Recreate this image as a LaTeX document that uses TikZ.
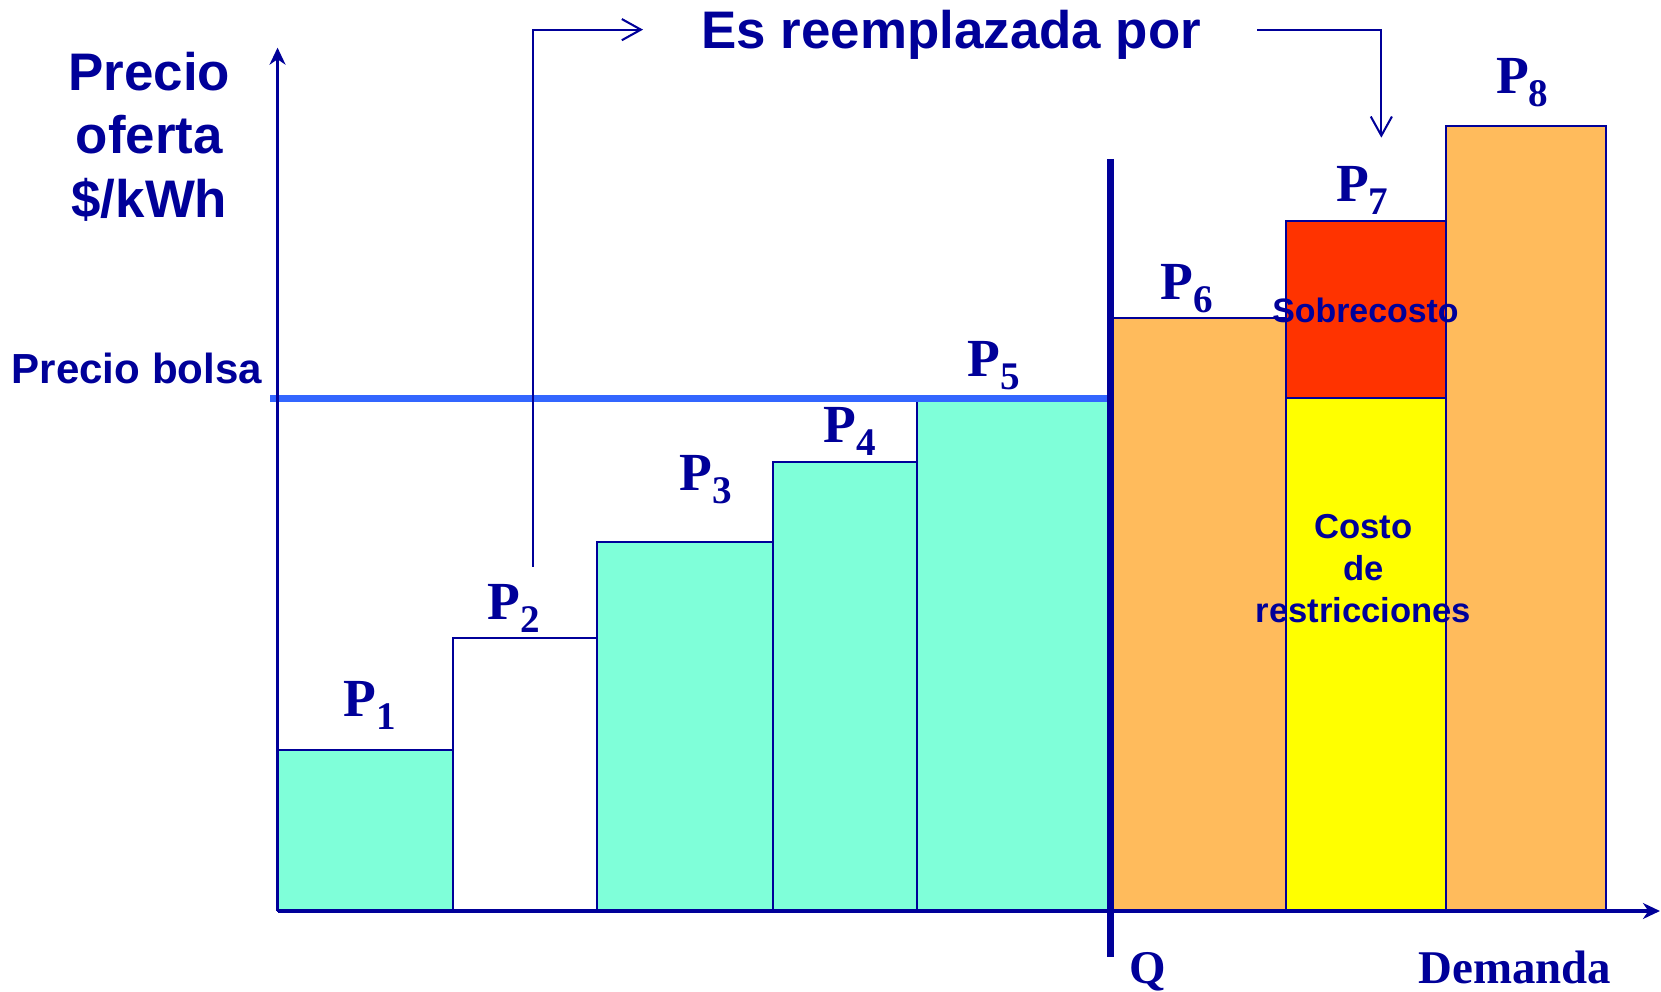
\documentclass[tikz,border=0pt]{standalone}
\usepackage{fontspec}
\setmainfont{Liberation Serif}
\setsansfont{Liberation Sans}
\usetikzlibrary{arrows.meta,positioning}
\definecolor{navy}{HTML}{000099}
\definecolor{aqua}{HTML}{7FFFD9}
\definecolor{naranja}{HTML}{FFBB5C}
\definecolor{rojo}{HTML}{FF3300}
\definecolor{amarillo}{HTML}{FFFF00}
\definecolor{bolsa}{HTML}{3366FF}
\newcommand{\pp}[1]{P\lower3.5pt\hbox{\fontsize{10.5}{12}\selectfont #1}}
\tikzset{
  bar/.style={draw=navy,line width=0.55pt},
  plabel/.style={text=navy,font=\fontsize{14.4}{16}\selectfont\bfseries,anchor=base,inner sep=0pt},
  axis/.style={draw=navy,line width=0.9pt,-{Stealth[length=1.6mm,width=1.5mm,inset=0.5mm]}},
  sfnote/.style={text=navy,font=\sffamily\bfseries,align=center,inner sep=0pt},
  replace/.style={draw=navy,line width=0.55pt,-{Straight Barb[length=1.8mm,width=2mm]}}
}
\begin{document}
\begin{tikzpicture}
  \useasboundingbox (0,0) rectangle (15.68,9.36);

  % offer blocks
  \filldraw[bar,fill=aqua] (2.62,0.76) rectangle (4.28,2.28);
  \filldraw[bar,fill=white] (4.28,0.76) rectangle (5.64,3.34);
  \filldraw[bar,fill=aqua] (5.64,0.76) rectangle (7.30,4.24);
  \filldraw[bar,fill=aqua] (7.30,0.76) rectangle (8.66,5.00);
  \filldraw[bar,fill=aqua] (8.66,0.76) rectangle (10.48,5.60);
  \filldraw[bar,fill=naranja] (10.48,0.76) rectangle (12.14,6.36);
  \filldraw[bar,fill=amarillo] (12.14,0.76) rectangle (13.65,5.60);
  \filldraw[bar,fill=rojo] (12.14,5.60) rectangle (13.65,7.27);
  \filldraw[bar,fill=naranja] (13.65,0.76) rectangle (15.16,8.17);

  \node[plabel] (p1) at (3.49,2.60) {\pp{1}};
  \node[plabel] (p2) at (4.85,3.51) {\pp{2}};
  \node[plabel] (p3) at (6.66,4.73) {\pp{3}};
  \node[plabel] (p4) at (8.02,5.18) {\pp{4}};
  \node[plabel] (p5) at (9.38,5.81) {\pp{5}};
  \node[plabel] (p6) at (11.20,6.53) {\pp{6}};
  \node[plabel] (p7) at (12.86,7.46) {\pp{7}};
  \node[plabel] (p8) at (14.37,8.48) {\pp{8}};

  % axes and limits
  \coordinate (O) at (2.62,0.76);
  \coordinate (ytop) at (2.62,8.91);
  \coordinate (xend) at (15.67,0.76);
  \coordinate (bolsaL) at (2.55,5.60);
  \coordinate (bolsaR) at (10.48,5.60);
  \coordinate (qtop) at (10.48,7.86);
  \coordinate (qbot) at (10.48,0.33);
  \draw[bolsa,line width=2pt] (bolsaL) -- (bolsaR);
  \draw[axis] (O) -- (ytop);
  \draw[axis] (O) -- (xend);
  \draw[navy,line width=1.9pt] (qtop) -- (qbot);

  \node[sfnote,font=\sffamily\bfseries\fontsize{14.2}{17}\selectfont] (ylab) at (1.41,8.07) {Precio\\oferta\\\$/kWh};
  \node[sfnote,font=\sffamily\bfseries\fontsize{11.3}{13}\selectfont,anchor=base east] (pbolsa) at (2.48,5.74) {Precio bolsa};
  \node[sfnote,font=\sffamily\bfseries\fontsize{14.2}{17}\selectfont,anchor=base] (reempl) at (8.98,8.90) {Es reemplazada por};
  \node[sfnote,font=\sffamily\bfseries\fontsize{9.1}{11}\selectfont,anchor=base] (sobre) at (12.89,6.32) {Sobrecosto};
  \node[sfnote,font=\sffamily\bfseries\fontsize{9.3}{11.3}\selectfont] (costo) at (12.87,3.99) {Costo\\de\\restricciones};
  \node[plabel,font=\fontsize{12.6}{14}\selectfont\bfseries] (q) at (10.83,0.08) {Q};
  \node[plabel,font=\fontsize{12.6}{14}\selectfont\bfseries] (dem) at (14.30,0.08) {Demanda};

  % replacement arrows
  \coordinate (srcA) at (5.03,4.01);
  \coordinate (tipA) at (6.07,9.08);
  \coordinate (srcB) at (11.87,9.08);
  \coordinate (tipB) at (13.04,8.06);
  \draw[replace] (srcA) |- (tipA);
  \draw[replace] (srcB) -| (tipB);
\end{tikzpicture}
\end{document}
